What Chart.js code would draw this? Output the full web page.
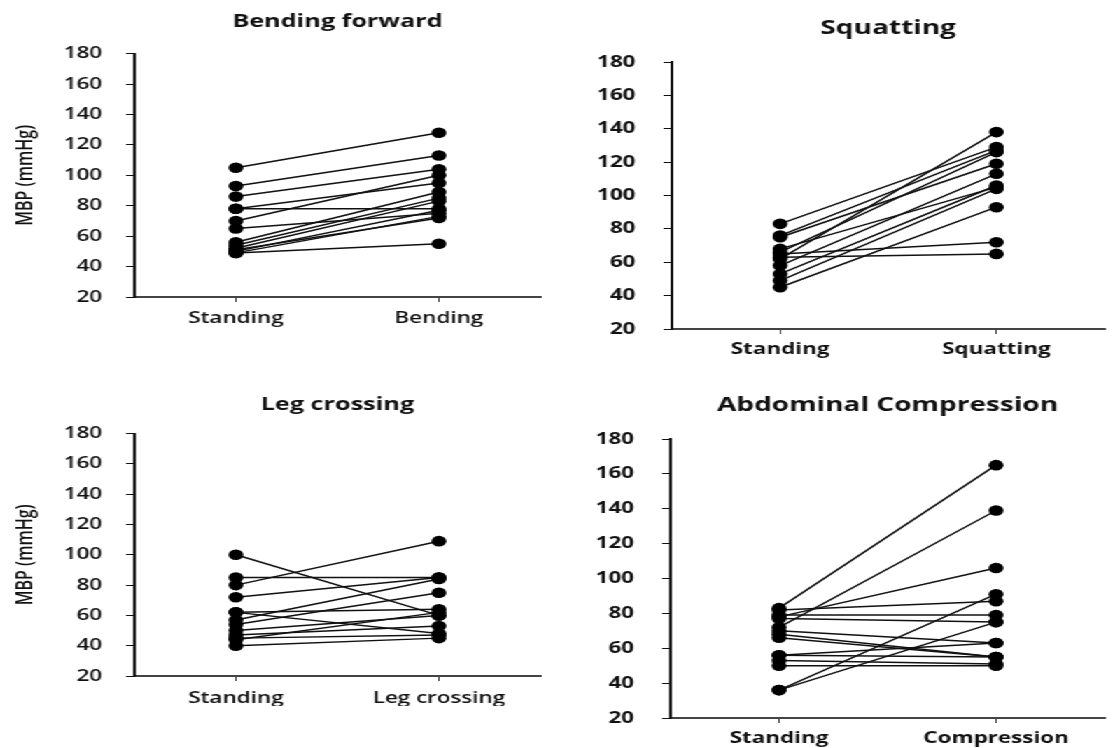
<!DOCTYPE html>
<html>
<head>
<meta charset="utf-8">
<script src="https://cdn.jsdelivr.net/npm/chart.js@4"></script>
<style>
  body { margin: 0; background: #fff; }
  /* the original figure is stretched sideways, so draw narrow and stretch */
  #stretch { position: absolute; left: 0; top: 0; width: 795px; height: 748px; transform: scaleX(1.4); transform-origin: 0 0; }
  canvas { position: absolute; }
</style>
</head>
<body>
<div id="stretch">
  <canvas id="bend" width="400" height="374" style="left:0;top:0"></canvas>
  <canvas id="squat" width="395" height="374" style="left:400px;top:0"></canvas>
  <canvas id="leg" width="400" height="374" style="left:0;top:374px"></canvas>
  <canvas id="abdo" width="395" height="374" style="left:400px;top:374px"></canvas>
</div>
<script>
// MBP (mmHg), one pair per subject
const bendLabels = ['Standing', 'Bending']
const bendStanding = [105, 93, 86, 78, 78, 70, 65, 56, 54, 52, 50, 49, 49, 51]
const bendBending = [128, 113, 104, 95, 78, 100, 75, 89, 85, 83, 77, 73, 55, 72]

const squatLabels = ['Standing', 'Squatting']
const squatStanding = [83, 76, 75, 68, 65, 63, 62, 66, 58, 53, 49, 45]
const squatSquatting = [129, 127, 119, 105, 72, 65, 138, 126, 113, 106, 104, 93]

const legLabels = ['Standing', 'Leg crossing']
const legStanding = [100, 85, 80, 72, 62, 62, 57, 54, 50, 47, 44, 40, 45]
const legCrossing = [60, 85, 109, 85, 64, 48, 84, 75, 60, 53, 62, 45, 47]

const abdoLabels = ['Standing', 'Compression']
const abdoStanding = [83, 72, 78, 36, 36, 82, 79, 77, 70, 68, 66, 56, 53, 50, 56]
const abdoCompression = [165, 139, 106, 91, 75, 87, 79, 75, 63, 55, 55, 63, 51, 50, 55]

const yTicks = { min: 20, max: 180, step: 20 }

function pairedChart (id, conf) {
  const datasets = conf.before.map((v, i) => ({
    data: [v, conf.after[i]],
    borderColor: '#111',
    borderWidth: 1.5,
    pointRadius: 5.3,
    pointBackgroundColor: '#000',
    pointBorderWidth: 0,
    clip: false
  }))
  const tickFont = { family: 'Open Sans', size: 16, weight: conf.bold ? 700 : 600 }
  return new Chart(document.getElementById(id), {
    type: 'line',
    data: { labels: conf.labels, datasets },
    options: {
      responsive: false,
      animation: false,
      devicePixelRatio: 1,
      layout: { padding: conf.padding },
      plugins: {
        legend: { display: false },
        tooltip: { enabled: false },
        title: {
          display: true,
          text: conf.title,
          fullSize: false,
          color: '#111',
          font: { family: 'Open Sans', size: conf.titleSize, weight: 700 },
          padding: conf.titlePad
        }
      },
      scales: {
        x: {
          offset: true,
          afterFit: s => { s.height = 30 },
          border: { color: '#444', width: 2 },
          grid: { drawOnChartArea: false, offset: false, tickLength: 5, color: '#444' },
          ticks: { color: '#111', padding: conf.xPad, font: tickFont }
        },
        y: {
          min: yTicks.min,
          max: yTicks.max,
          afterFit: s => { s.width = conf.axisWidth },
          border: { color: '#111', width: 2 },
          grid: { drawOnChartArea: false, tickLength: 6, color: '#111' },
          ticks: { stepSize: yTicks.step, color: '#111', padding: conf.tickPad, font: tickFont },
          title: {
            display: !!conf.yTitle,
            text: conf.yTitle,
            color: '#111',
            font: { family: 'Open Sans', size: 16, weight: 600 },
            padding: { top: 9, bottom: 0 }
          }
        }
      }
    }
  })
}

pairedChart('bend', {
  title: 'Bending forward', titleSize: 18, titlePad: { top: 11, bottom: 21 },
  labels: bendLabels, before: bendStanding, after: bendBending,
  padding: { left: 0, right: 14, top: 0, bottom: 47 },
  axisWidth: 96, tickPad: 17, xPad: 7, yTitle: 'MBP (mmHg)'
})

pairedChart('squat', {
  title: 'Squatting', titleSize: 20, titlePad: { top: 16, bottom: 22 },
  labels: squatLabels, before: squatStanding, after: squatSquatting,
  padding: { left: 0, right: 6, top: 0, bottom: 15 },
  axisWidth: 80, tickPad: 20, xPad: 6, bold: true
})

pairedChart('leg', {
  title: 'Leg crossing', titleSize: 18, titlePad: { top: 20, bottom: 18 },
  labels: legLabels, before: legStanding, after: legCrossing,
  padding: { left: 0, right: 14, top: 0, bottom: 42 },
  axisWidth: 96, tickPad: 17, xPad: 8, yTitle: 'MBP (mmHg)'
})

pairedChart('abdo', {
  title: 'Abdominal Compression', titleSize: 20, titlePad: { top: 19, bottom: 22 },
  labels: abdoLabels, before: abdoStanding, after: abdoCompression,
  padding: { left: 0, right: 6, top: 0, bottom: 0 },
  axisWidth: 79, tickPad: 20, xPad: 6, bold: true
})
</script>
</body>
</html>
